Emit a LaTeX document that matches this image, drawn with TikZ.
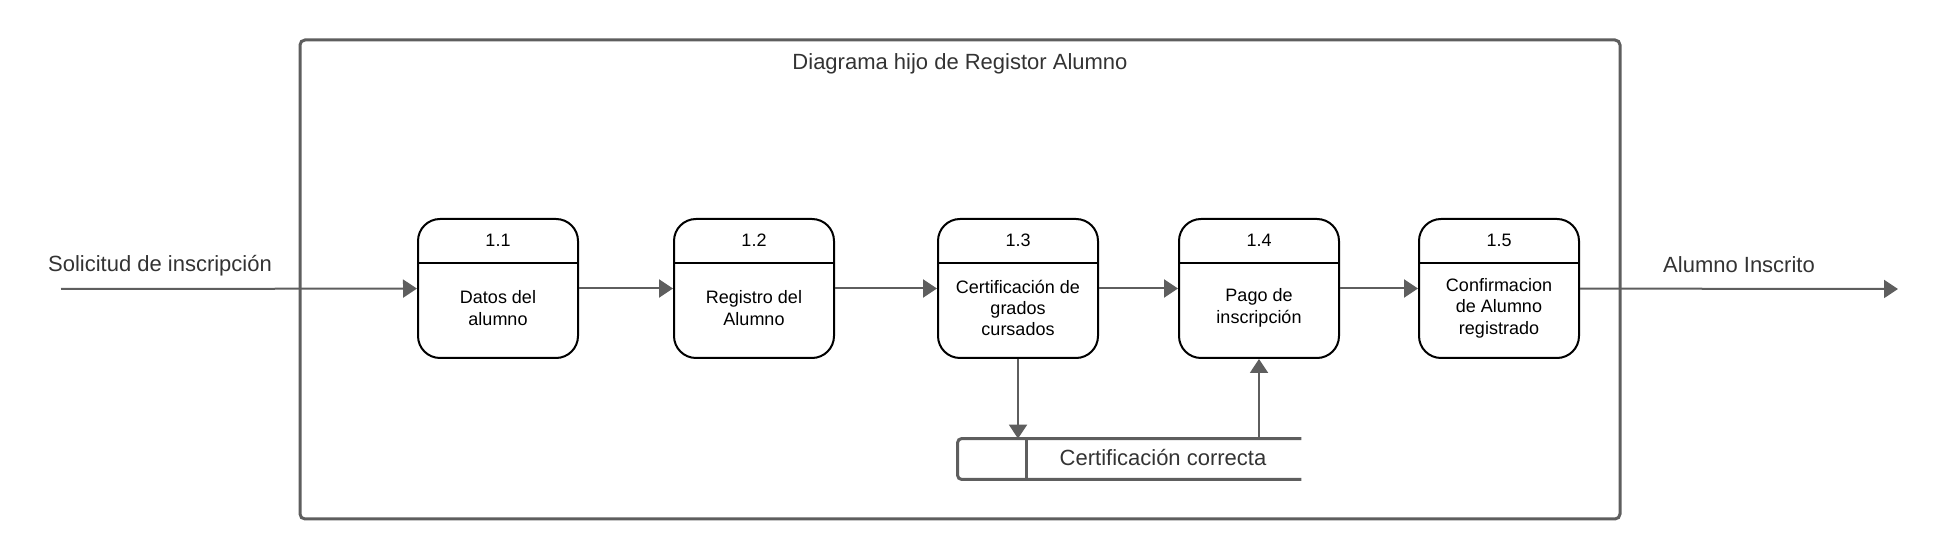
\documentclass[tikz,border=0pt]{standalone}
\usepackage{fontspec}
\setmainfont{Liberation Sans}
\usetikzlibrary{arrows.meta,positioning}
\definecolor{gris}{HTML}{5E5E5E}
\definecolor{letra}{HTML}{333333}

\newcommand{\Proceso}[4]{%
  \node[proceso] (#1) at (#2,288.5) {};
  \draw[divisor] ([yshift=-22.5pt]#1.north west) -- ([yshift=-22.5pt]#1.north east);
  \node[numero] (#1num) at ([yshift=-11.25pt]#1.north) {#3};
  \node[textop] (#1txt) at ([yshift=25.5pt]#1.south) {#4};
}

\begin{document}
\begin{tikzpicture}[x=0.5pt, y=-0.5pt,
    proceso/.style={draw=black, line width=1pt, rounded corners=11pt, minimum width=80pt, minimum height=69.5pt, inner sep=0pt},
    divisor/.style={draw=black, line width=1pt},
    numero/.style={font=\fontsize{9}{10.4}\selectfont, inner sep=0pt},
    textop/.style={font=\fontsize{9}{10.7}\selectfont, align=center, inner sep=0pt},
    flujo/.style={draw=gris, line width=1pt, -{Triangle[length=7pt,width=9pt]}},
    linea/.style={draw=gris, line width=1.5pt},
    etiqueta/.style={font=\fontsize{11}{13}\selectfont, text=letra, inner sep=0pt}]
    \useasboundingbox (0,0) rectangle (1938,560);

    \node[draw=gris, line width=1.5pt, rounded corners=2.5pt, minimum width=660pt, minimum height=239.5pt, inner sep=0pt] (marco) at (960,279.5) {};
    \node[etiqueta] (titulo) at (960,64) {Diagrama hijo de Registor Alumno};

    \Proceso{p11}{498}{1.1}{Datos del\\alumno}
    \Proceso{p12}{754}{1.2}{Registro del\\Alumno}
    \Proceso{p13}{1018}{1.3}{Certificación de\\grados\\cursados}
    \Proceso{p14}{1259}{1.4}{Pago de\\inscripción}
    \Proceso{p15}{1499}{1.5}{Confirmacion\\de Alumno\\registrado}

    \node[minimum width=171.5pt, minimum height=20pt, inner sep=0pt] (cc) at (1129.5,459) {};
    \draw[linea, rounded corners=2pt] (cc.north east) -- (cc.north west) -- (cc.south west) -- (cc.south east);
    \draw[linea] ([xshift=34.5pt]cc.north west) -- ([xshift=34.5pt]cc.south west);
    \node[etiqueta] (cctxt) at (1163,458) {Certificación correcta};

    \coordinate (entrada) at (61,289);
    \coordinate (salida) at (1898,289);
    \node[etiqueta] (solicitud) at (160,266) {Solicitud de inscripción};
    \node[etiqueta] (inscrito) at (1739,265) {Alumno Inscrito};

    \draw[flujo] (entrada) -- (p11);
    \draw[flujo] (p11) -- (p12);
    \draw[flujo] (p12) -- (p13);
    \draw[flujo] (p13) -- (p14);
    \draw[flujo] (p14) -- (p15);
    \draw[flujo] (p15) -- (salida);
    \draw[flujo] (p13.south) -- (p13.south |- cc.north);
    \draw[flujo] (cc.north -| p14.south) -- (p14.south);
\end{tikzpicture}
\end{document}
